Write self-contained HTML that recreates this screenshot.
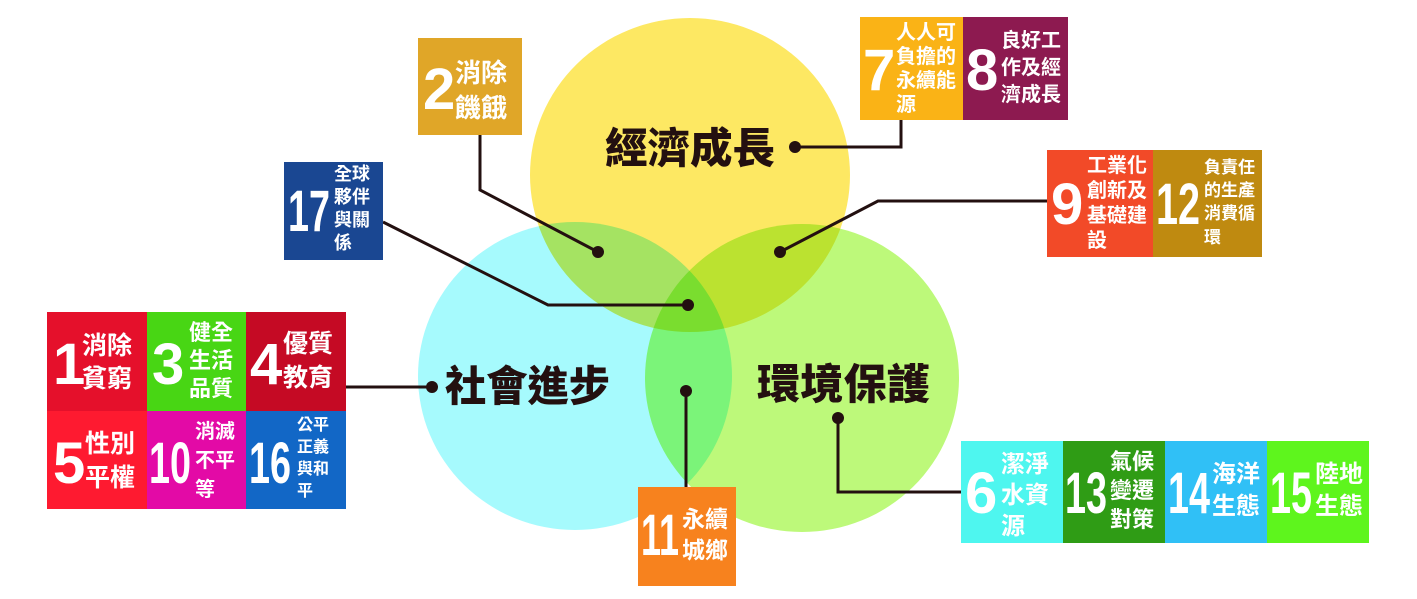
<!DOCTYPE html>
<html><head><meta charset="utf-8"><style>
html,body{margin:0;padding:0;background:#fff;}
svg{display:block;}
.n{font-family:"Liberation Sans",sans-serif;font-weight:700;fill:#fff;font-size:58px;}
.c{font-family:"Liberation Sans","Noto Sans CJK TC",sans-serif;font-weight:700;fill:#fff;}
.t{font-family:"Liberation Sans","Noto Sans CJK TC",sans-serif;font-weight:900;fill:#231010;font-size:42px;}
</style></head><body>
<svg width="1417" height="599" viewBox="0 0 1417 599" xmlns="http://www.w3.org/2000/svg">
<g style="isolation:isolate">
<ellipse cx="690" cy="175" rx="160" ry="157" fill="#fde863"/>
<ellipse cx="575" cy="376" rx="157" ry="154" fill="#a6fafd" style="mix-blend-mode:multiply"/>
<ellipse cx="802" cy="378" rx="157" ry="154" fill="#bdf97a" style="mix-blend-mode:multiply"/>
</g>
<g stroke="#231010" stroke-width="3" fill="none">
<polyline points="480,135 480,190 598,252"/>
<polyline points="383,222 548,305 688,305"/>
<polyline points="795,147 901,147 901,120"/>
<polyline points="1047,201 878,201 780,252"/>
<polyline points="346,387 432,387"/>
<polyline points="686,391 686,487"/>
<polyline points="838,418 838,492 961,492"/>
</g>
<g fill="#231010">
<circle cx="598" cy="252" r="6"/><circle cx="688" cy="305" r="6"/><circle cx="795" cy="147" r="6"/>
<circle cx="780" cy="252" r="6"/><circle cx="432" cy="387" r="6"/><circle cx="686" cy="391" r="6"/><circle cx="838" cy="418" r="6"/>
</g>
<text class="t" x="605" y="163" textLength="170" lengthAdjust="spacingAndGlyphs">經濟成長</text>
<text class="t" x="445" y="401" textLength="165" lengthAdjust="spacingAndGlyphs">社會進步</text>
<text class="t" x="757" y="399" textLength="173" lengthAdjust="spacingAndGlyphs">環境保護</text>

<!-- left grid -->
<rect x="47" y="312" width="100" height="99" fill="#e5102b"/>
<rect x="147" y="312" width="99" height="99" fill="#48d614"/>
<rect x="246" y="312" width="100" height="99" fill="#c50a24"/>
<rect x="47" y="411" width="100" height="98" fill="#fe1a30"/>
<rect x="147" y="411" width="99" height="98" fill="#e30aa6"/>
<rect x="246" y="411" width="100" height="98" fill="#1267c6"/>
<text class="n" x="53" y="384">1</text>
<text class="c" font-size="25" x="82" y="354">消除</text><text class="c" font-size="25" x="82" y="387">貧窮</text>
<text class="n" x="152" y="384">3</text>
<text class="c" font-size="22" x="189" y="340">健全</text><text class="c" font-size="22" x="189" y="368">生活</text><text class="c" font-size="22" x="189" y="396">品質</text>
<text class="n" x="250" y="384">4</text>
<text class="c" font-size="25" x="283" y="352">優質</text><text class="c" font-size="25" x="283" y="386">教育</text>
<text class="n" x="53" y="483">5</text>
<text class="c" font-size="25" x="85" y="452">性別</text><text class="c" font-size="25" x="85" y="486">平權</text>
<text class="n" x="149" y="483" textLength="42" lengthAdjust="spacingAndGlyphs">10</text>
<text class="c" font-size="20" x="195" y="438">消滅</text><text class="c" font-size="20" x="195" y="467">不平</text><text class="c" font-size="20" x="195" y="496">等</text>
<text class="n" x="249" y="483" textLength="42" lengthAdjust="spacingAndGlyphs">16</text>
<text class="c" font-size="16" x="297" y="430">公平</text><text class="c" font-size="16" x="297" y="452">正義</text><text class="c" font-size="16" x="297" y="474">與和</text><text class="c" font-size="16" x="297" y="496">平</text>

<!-- box 2 -->
<rect x="418" y="38" width="104" height="97" fill="#e0a628"/>
<text class="n" x="423" y="109">2</text>
<text class="c" font-size="26" x="455" y="82">消除</text><text class="c" font-size="26" x="455" y="117">饑餓</text>
<!-- box 7 / 8 -->
<rect x="860" y="17" width="103" height="103" fill="#fab316"/>
<rect x="963" y="17" width="105" height="103" fill="#8d1a50"/>
<text class="n" x="863" y="90">7</text>
<text class="c" font-size="20" x="896" y="39">人人可</text><text class="c" font-size="20" x="896" y="63">負擔的</text><text class="c" font-size="20" x="896" y="87">永續能</text><text class="c" font-size="20" x="896" y="111">源</text>
<text class="n" x="966" y="90">8</text>
<text class="c" font-size="20" x="1001" y="47">良好工</text><text class="c" font-size="20" x="1001" y="74">作及經</text><text class="c" font-size="20" x="1001" y="101">濟成長</text>
<!-- box 17 -->
<rect x="284" y="162" width="99" height="98" fill="#1a4792"/>
<text class="n" x="288" y="231" textLength="42" lengthAdjust="spacingAndGlyphs">17</text>
<text class="c" font-size="18" x="334" y="180">全球</text><text class="c" font-size="18" x="334" y="203">夥伴</text><text class="c" font-size="18" x="334" y="226">與關</text><text class="c" font-size="18" x="334" y="249">係</text>
<!-- box 9 / 12 -->
<rect x="1047" y="150" width="106" height="107" fill="#f24a28"/>
<rect x="1153" y="150" width="109" height="107" fill="#bf8a10"/>
<text class="n" x="1051" y="224">9</text>
<text class="c" font-size="20" x="1087" y="172">工業化</text><text class="c" font-size="20" x="1087" y="197">創新及</text><text class="c" font-size="20" x="1087" y="222">基礎建</text><text class="c" font-size="20" x="1087" y="247">設</text>
<text class="n" x="1156" y="224" textLength="44" lengthAdjust="spacingAndGlyphs">12</text>
<text class="c" font-size="17" x="1204" y="173">負責任</text><text class="c" font-size="17" x="1204" y="196">的生產</text><text class="c" font-size="17" x="1204" y="219">消費循</text><text class="c" font-size="17" x="1204" y="243">環</text>
<!-- box 11 -->
<rect x="638" y="487" width="98" height="99" fill="#f7821e"/>
<text class="n" x="641" y="555" textLength="38" lengthAdjust="spacingAndGlyphs">11</text>
<text class="c" font-size="23" x="682" y="527">永續</text><text class="c" font-size="23" x="682" y="558">城鄉</text>
<!-- bottom right -->
<rect x="961" y="441" width="102" height="102" fill="#4ef6ef"/>
<rect x="1063" y="441" width="102" height="102" fill="#2f9c15"/>
<rect x="1165" y="441" width="102" height="102" fill="#30c0f6"/>
<rect x="1267" y="441" width="102" height="102" fill="#5ef51d"/>
<text class="n" x="965" y="513">6</text>
<text class="c" font-size="24" x="1001" y="472">潔淨</text><text class="c" font-size="24" x="1001" y="503">水資</text><text class="c" font-size="24" x="1001" y="534">源</text>
<text class="n" x="1065" y="513" textLength="42" lengthAdjust="spacingAndGlyphs">13</text>
<text class="c" font-size="22" x="1110" y="469">氣候</text><text class="c" font-size="22" x="1110" y="498">變遷</text><text class="c" font-size="22" x="1110" y="527">對策</text>
<text class="n" x="1168" y="513" textLength="42" lengthAdjust="spacingAndGlyphs">14</text>
<text class="c" font-size="24" x="1212" y="482">海洋</text><text class="c" font-size="24" x="1212" y="514">生態</text>
<text class="n" x="1270" y="513" textLength="42" lengthAdjust="spacingAndGlyphs">15</text>
<text class="c" font-size="24" x="1315" y="482">陸地</text><text class="c" font-size="24" x="1315" y="514">生態</text>
</svg>
</body></html>
